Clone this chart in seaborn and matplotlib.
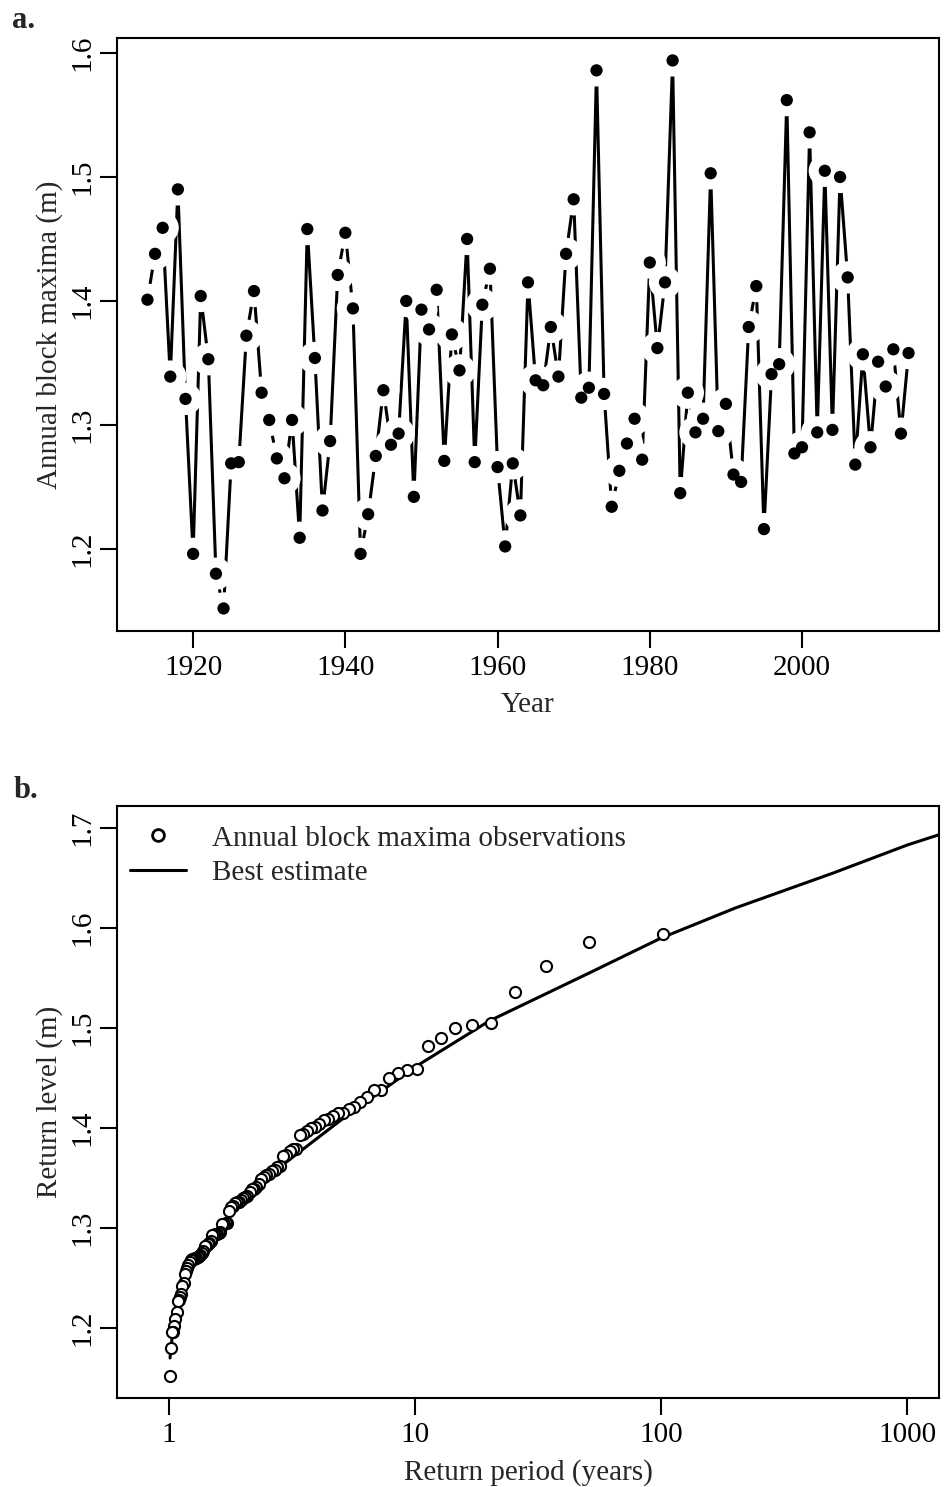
import numpy as np
import pandas as pd
import matplotlib
matplotlib.use("Agg")
import matplotlib.pyplot as plt
from matplotlib.lines import Line2D
import seaborn as sns

# ---------------- data ----------------
years = list(range(1914, 2015))
annual_maxima = [
    1.401, 1.438, 1.459, 1.339, 1.490, 1.321, 1.196, 1.404, 1.353, 1.180,   # 1914-1923
    1.152, 1.269, 1.270, 1.372, 1.408, 1.326, 1.304, 1.273, 1.257, 1.304,   # 1924-1933
    1.209, 1.458, 1.354, 1.231, 1.287, 1.421, 1.455, 1.394, 1.196, 1.228,   # 1934-1943
    1.275, 1.328, 1.284, 1.293, 1.400, 1.242, 1.393, 1.377, 1.409, 1.271,   # 1944-1953
    1.373, 1.344, 1.450, 1.270, 1.397, 1.426, 1.266, 1.202, 1.269, 1.227,   # 1954-1963
    1.415, 1.336, 1.332, 1.379, 1.339, 1.438, 1.482, 1.322, 1.330, 1.586,   # 1964-1973
    1.325, 1.234, 1.263, 1.285, 1.305, 1.272, 1.431, 1.362, 1.415, 1.594,   # 1974-1983
    1.245, 1.326, 1.294, 1.305, 1.503, 1.295, 1.317, 1.260, 1.254, 1.379,   # 1984-1993
    1.412, 1.216, 1.341, 1.349, 1.562, 1.277, 1.282, 1.536, 1.294, 1.505,   # 1994-2003
    1.296, 1.500, 1.419, 1.268, 1.357, 1.282, 1.351, 1.331, 1.361, 1.293,   # 2004-2013
    1.358,                                                                 # 2014
]

# best-estimate return level curve
curve_period = [1.01, 1.05, 1.1, 1.2, 1.5, 2, 3, 5, 10, 20, 50, 100, 200, 500, 1000, 2000]
curve_level = [1.170, 1.211, 1.236, 1.262, 1.293, 1.326, 1.366, 1.408, 1.461, 1.507,
               1.554, 1.590, 1.620, 1.655, 1.683, 1.707]

year_ticks = [1920, 1940, 1960, 1980, 2000]
ya_ticks = [1.2, 1.3, 1.4, 1.5, 1.6]
yb_ticks = [1.2, 1.3, 1.4, 1.5, 1.6, 1.7]
period_ticks = [1, 10, 100, 1000]
period_labels = ["1", "10", "100", "1000"]

df_a = pd.DataFrame({"year": years, "maxima": annual_maxima})
# empirical plotting positions for the observed maxima: T = (n+1)/rank
obs = np.sort(np.array(annual_maxima))[::-1]
rank = np.arange(1, len(obs) + 1)
df_obs = pd.DataFrame({"period": (len(obs) + 1) / rank, "level": obs})
df_curve = pd.DataFrame({"period": curve_period, "level": curve_level})

# ---------------- style ----------------
sns.set_style("ticks")
plt.rcParams["font.family"] = ["Liberation Serif", "DejaVu Serif"]
plt.rcParams["axes.linewidth"] = 1.5
plt.rcParams["xtick.major.width"] = 1.5
plt.rcParams["ytick.major.width"] = 1.5
plt.rcParams["xtick.major.size"] = 12.5
plt.rcParams["ytick.major.size"] = 12.5
plt.rcParams["xtick.major.pad"] = 5
plt.rcParams["ytick.major.pad"] = 2.8
plt.rcParams["xtick.color"] = "black"
plt.rcParams["ytick.color"] = "black"
plt.rcParams["axes.edgecolor"] = "black"

FS = 21
W, H = 946, 1487
fig = plt.figure(figsize=(W / 100, H / 100), dpi=100)

def ax_rect(left, top, right, bottom):
    return [left / W, 1 - bottom / H, (right - left) / W, (bottom - top) / H]

# ---------------- panel a ----------------
ax1 = fig.add_axes(ax_rect(117, 38, 939, 631))
sns.lineplot(data=df_a, x="year", y="maxima", ax=ax1, color="black", lw=2.2,
             zorder=1, legend=False)
sns.scatterplot(data=df_a, x="year", y="maxima", ax=ax1, color="white", s=540,
                edgecolor="none", zorder=2, legend=False)
sns.scatterplot(data=df_a, x="year", y="maxima", ax=ax1, color="black", s=78,
                edgecolor="none", zorder=3, legend=False)
ax1.set_xlim(1910, 2018)
ax1.set_ylim(1.1338, 1.6121)
ax1.set_xticks(year_ticks)
ax1.set_xticklabels([str(t) for t in year_ticks], fontsize=FS)
ax1.set_yticks(ya_ticks)
ax1.set_yticklabels([f"{t:.1f}" for t in ya_ticks], fontsize=FS, rotation=90,
                    va="center")
ax1.set_xlabel("Year", fontsize=FS, labelpad=7.6)
ax1.set_ylabel("Annual block maxima (m)", fontsize=FS, labelpad=5)
for s in ax1.spines.values():
    s.set_visible(True)
fig.text(12 / W, 1 - 20 / H, "a.", fontsize=22, fontweight="bold", va="center",
         ha="left")

# ---------------- panel b ----------------
ax2 = fig.add_axes(ax_rect(117, 806, 939, 1398))
ax2.set_xscale("log")
sns.lineplot(data=df_curve, x="period", y="level", ax=ax2, color="black", lw=2.2,
             sort=False, zorder=2, legend=False)
sns.scatterplot(data=df_obs, x="period", y="level", ax=ax2, marker="o",
                facecolor="white", edgecolor="black", linewidth=1.5, s=64,
                zorder=3, legend=False)
ax2.set_xlim(0.615, 1345)
ax2.set_ylim(1.13, 1.722)
ax2.set_xticks(period_ticks)
ax2.set_xticklabels(period_labels, fontsize=FS)
ax2.xaxis.set_minor_locator(matplotlib.ticker.NullLocator())
ax2.set_yticks(yb_ticks)
ax2.set_yticklabels([f"{t:.1f}" for t in yb_ticks], fontsize=FS, rotation=90,
                    va="center")
ax2.set_xlabel("Return period (years)", fontsize=FS, labelpad=7.6)
ax2.set_ylabel("Return level (m)", fontsize=FS, labelpad=5)
for s in ax2.spines.values():
    s.set_visible(True)
handles = [
    Line2D([], [], marker="o", linestyle="none", markerfacecolor="white",
           markeredgecolor="black", markeredgewidth=2.0, markersize=8.5),
    Line2D([], [], color="black", lw=2.2),
]
ax2.legend(handles, ["Annual block maxima observations", "Best estimate"],
           loc="upper left", bbox_to_anchor=(0.0, 0.9896), frameon=False,
           fontsize=FS, handlelength=1.9, handletextpad=0.91, labelspacing=0.28,
           borderaxespad=0.05)
fig.text(14 / W, 1 - 790 / H, "b.", fontsize=22, fontweight="bold", va="center",
         ha="left")

fig.savefig("out.png", dpi=100)
